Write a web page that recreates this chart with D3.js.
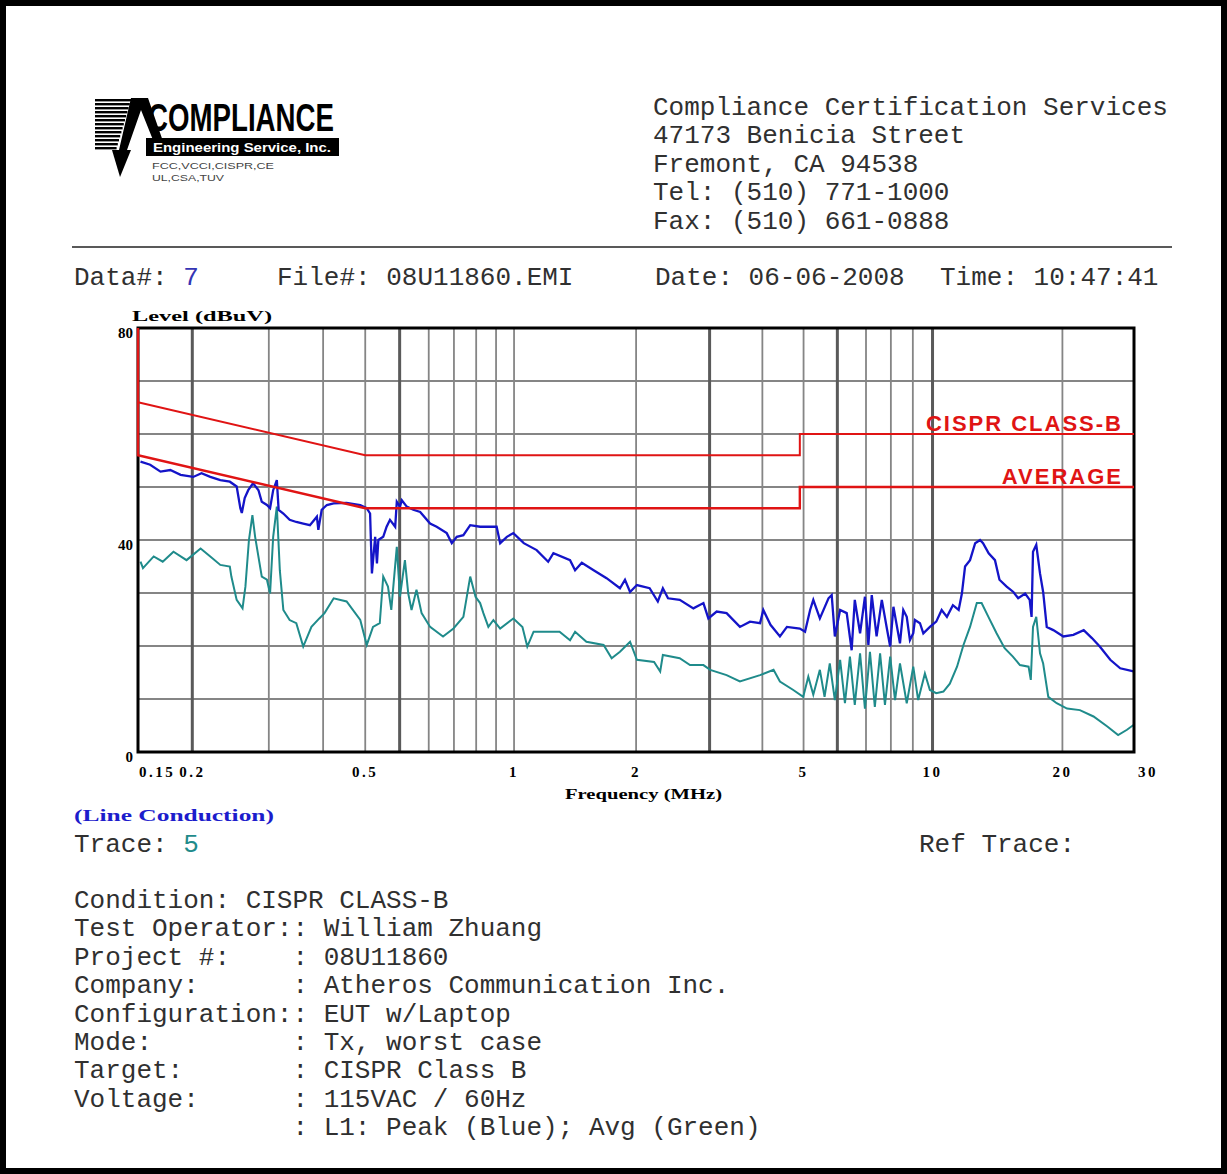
<!DOCTYPE html>
<html>
<head>
<meta charset="utf-8">
<script src="https://cdn.jsdelivr.net/npm/d3@7"></script>
<style>
  html, body { margin: 0; padding: 0; background: #ffffff; }
  svg { display: block; }
  .mono { font-family: "Liberation Mono", "Courier New", monospace; font-size: 26px; fill: #303030; white-space: pre; }
  .serifb { font-family: "Liberation Serif", "Times New Roman", serif; font-weight: bold; fill: #000; }
</style>
</head>
<body>
<svg id="page" width="1227" height="1174"></svg>
<script>
// ---- conducted emission scan, line L1 ----
// Peak detector trace (MHz, dBuV)
const peakFreq = [0.152,0.160,0.169,0.178,0.188,0.201,0.210,0.220,0.232,0.244,0.253,0.258,0.260,0.264,0.269,0.276,0.284,0.289,0.297,0.302,0.307,0.313,0.316,0.324,0.335,0.347,0.360,0.373,0.387,0.390,0.397,0.408,0.423,0.453,0.487,0.504,0.513,0.518,0.527,0.532,0.536,0.550,0.560,0.570,0.586,0.591,0.601,0.607,0.623,0.645,0.669,0.705,0.730,0.770,0.791,0.812,0.841,0.872,0.919,0.969,1.003,1.022,1.059,1.096,1.158,1.240,1.318,1.355,1.480,1.520,1.575,1.677,1.796,1.928,1.980,2.034,2.109,2.256,2.356,2.420,2.487,2.646,2.845,3.000,3.080,3.218,3.392,3.640,3.840,4.050,4.120,4.280,4.500,4.670,5.000,5.140,5.280,5.370,5.560,5.820,5.920,6.020,6.190,6.410,6.580,6.690,6.880,7.060,7.190,7.320,7.510,7.720,7.930,8.070,8.210,8.500,8.650,8.810,8.960,9.120,9.200,9.450,9.620,9.960,10.30,10.60,10.90,11.25,11.60,11.80,12.00,12.32,12.66,12.99,13.20,13.60,14.06,14.40,14.96,15.50,15.90,16.50,16.90,17.07,17.20,17.50,17.85,18.15,18.50,19.15,20.20,21.30,22.50,23.50,24.50,25.90,27.30,29.30];
const peakLevel = [54.8,54.2,52.9,53.2,52.3,51.9,52.6,51.9,51.3,51.0,50.1,46.0,45.1,47.9,49.4,50.7,49.4,47.2,46.6,46.0,49.4,51.3,45.7,45.0,43.8,43.4,43.1,42.8,44.4,41.9,45.7,46.6,46.9,47.0,46.6,46.0,45.0,33.7,40.6,35.6,40.0,40.6,42.5,43.8,42.5,47.2,46.3,47.5,46.3,45.7,45.3,43.1,42.5,41.3,39.4,40.6,40.9,42.8,42.5,42.5,42.5,39.4,40.6,41.3,39.4,38.1,35.9,37.5,36.2,34.3,35.7,34.3,32.8,30.9,32.5,30.2,31.5,30.9,28.4,30.9,29.0,28.7,27.1,28.1,25.2,26.5,26.2,23.6,24.6,24.3,26.8,24.0,21.8,23.6,23.3,22.7,26.8,28.7,25.2,29.0,29.6,21.8,26.8,26.2,19.2,28.7,22.4,29.3,20.2,29.6,21.8,28.7,23.3,19.9,27.4,20.5,26.8,25.5,21.1,22.4,24.9,24.3,22.4,23.6,24.6,26.8,25.5,27.7,26.8,29.9,35.0,36.2,39.4,40.0,39.4,37.5,36.2,32.5,31.2,30.2,29.0,29.9,28.7,25.5,37.8,39.1,33.7,30.2,23.6,23.0,21.8,22.1,23.0,21.5,19.9,17.4,15.8,15.2];

// Average detector trace (MHz, dBuV)
const avgFreq = [0.152,0.154,0.163,0.171,0.181,0.194,0.209,0.220,0.232,0.244,0.246,0.253,0.261,0.265,0.270,0.275,0.279,0.289,0.297,0.302,0.307,0.313,0.318,0.324,0.335,0.347,0.360,0.376,0.392,0.403,0.423,0.453,0.487,0.504,0.521,0.540,0.550,0.564,0.574,0.591,0.601,0.617,0.628,0.639,0.656,0.674,0.705,0.755,0.798,0.841,0.872,0.897,0.919,0.935,0.960,0.986,1.022,1.096,1.150,1.180,1.220,1.263,1.318,1.400,1.480,1.520,1.614,1.768,1.845,1.928,2.034,2.109,2.310,2.386,2.420,2.646,2.794,3.000,3.110,3.392,3.640,4.050,4.350,4.500,4.830,5.090,5.230,5.370,5.560,5.700,5.860,6.020,6.190,6.350,6.520,6.690,6.880,7.060,7.250,7.440,7.650,7.850,8.070,8.280,8.500,8.810,9.120,9.360,9.700,9.960,10.30,10.70,11.07,11.50,11.90,12.32,12.77,13.10,13.58,14.18,14.80,15.46,16.05,16.80,17.00,17.20,17.50,17.85,18.15,18.65,19.50,20.60,22.05,23.70,25.50,27.00,28.30,29.30];
const avgLevel = [35.9,34.7,36.9,35.9,37.8,36.2,38.4,36.9,35.3,35.0,33.1,28.7,27.1,31.2,40.0,44.7,40.6,33.1,32.5,29.9,40.6,46.3,34.3,26.8,24.9,24.3,19.9,23.6,25.2,26.2,29.0,28.4,24.9,20.2,23.6,24.3,33.1,31.2,26.8,38.7,29.3,36.2,29.9,26.8,30.6,26.2,23.6,21.8,23.3,25.5,33.1,29.3,28.1,26.2,23.6,24.9,23.3,25.2,23.6,19.9,22.7,22.7,22.7,22.7,21.1,22.7,20.8,20.2,17.7,18.9,20.8,17.4,17.0,15.2,18.3,17.7,16.4,16.4,15.5,14.5,13.3,14.5,15.5,13.3,11.7,10.4,14.2,10.8,15.5,10.4,16.7,9.8,17.4,9.2,18.0,8.9,18.6,8.2,18.9,8.5,18.6,8.9,18.0,9.8,16.7,9.2,16.1,9.8,14.8,11.7,11.1,11.4,12.9,16.1,20.2,23.6,28.1,28.1,25.5,22.4,19.6,18.0,16.4,16.1,13.6,23.6,25.5,18.6,16.7,10.4,9.2,8.2,7.9,6.7,4.8,3.2,4.2,5.1];

// CISPR 22 Class B limits
const qpLimitFreq = [0.15, 0.5, 5, 5, 30];
const qpLimitLevel = [66, 56, 56, 60, 60];
const avLimitFreq = [0.15, 0.15, 0.5, 5, 5, 30];
const avLimitLevel = [80, 56, 46, 46, 50, 50];

// Axis furniture
const freqDomain = [0.15, 30];
const levelDomain = [0, 80];
const gridFreqs = [0.2,0.3,0.4,0.5,0.6,0.7,0.8,0.9,1.0,1.1,2.1,3.1,4.1,5.1,6.1,7.1,8.1,9.1,10.1,20.1];
const heavyGridFreqs = [0.2, 0.6, 3.1, 6.1, 10.1];
const levelGrid = [10,20,30,40,50,60,70];
const tickFreqs = [0.15, 0.2, 0.5, 1.1, 2.1, 5.1, 10.1, 20.1, 30];
const tickLabels = ["0.15","0.2","0.5","1","2","5","10","20","30"];
const levelTicks = [80, 40, 0];

// Report text
const headerLines = ["Compliance Certification Services","47173 Benicia Street","Fremont, CA 94538","Tel: (510) 771-1000","Fax: (510) 661-0888"];
const infoLines = [
  "Condition: CISPR CLASS-B",
  "Test Operator:: William Zhuang",
  "Project #:    : 08U11860",
  "Company:      : Atheros Communication Inc.",
  "Configuration:: EUT w/Laptop",
  "Mode:         : Tx, worst case",
  "Target:       : CISPR Class B",
  "Voltage:      : 115VAC / 60Hz",
  "              : L1: Peak (Blue); Avg (Green)"
];

const svg = d3.select("#page");

// page frame
svg.append("rect").attr("x", 3).attr("y", 3).attr("width", 1221).attr("height", 1168)
  .attr("fill", "none").attr("stroke", "#000").attr("stroke-width", 6);

// ---- logo ----
const logo = svg.append("g");
for (let i = 0; i < 13; i++) {
  logo.append("rect").attr("x", 95).attr("y", 99 + i * 4)
    .attr("width", 36 - i * 1.2).attr("height", 2.4).attr("fill", "#000");
}
logo.append("path").attr("d", "M131,98 L148,98 L166,150 L157,150 L141,110 L127,150 L119,150 Z").attr("fill", "#000");
logo.append("path").attr("d", "M112,150 L131,150 L120,177 Z").attr("fill", "#000");
logo.append("text").attr("x", 148).attr("y", 131).attr("textLength", 186).attr("lengthAdjust", "spacingAndGlyphs")
  .style("font-family", "Liberation Sans, Arial, sans-serif").style("font-weight", "bold").style("font-size", "39px")
  .text("COMPLIANCE");
logo.append("rect").attr("x", 146).attr("y", 138).attr("width", 193).attr("height", 18).attr("fill", "#000");
logo.append("text").attr("x", 153).attr("y", 152).attr("textLength", 178).attr("lengthAdjust", "spacingAndGlyphs")
  .style("font-family", "Liberation Sans, Arial, sans-serif").style("font-weight", "bold").style("font-size", "13px")
  .style("fill", "#fff").text("Engineering Service, Inc.");
logo.append("text").attr("x", 152).attr("y", 169).attr("textLength", 122).attr("lengthAdjust", "spacingAndGlyphs")
  .style("font-family", "Liberation Sans, Arial, sans-serif").style("font-size", "9px").style("fill", "#444")
  .text("FCC,VCCI,CISPR,CE");
logo.append("text").attr("x", 152).attr("y", 181).attr("textLength", 72).attr("lengthAdjust", "spacingAndGlyphs")
  .style("font-family", "Liberation Sans, Arial, sans-serif").style("font-size", "9px").style("fill", "#444")
  .text("UL,CSA,TUV");

// ---- header address ----
svg.selectAll("text.hdr").data(headerLines).join("text")
  .attr("class", "mono hdr").attr("x", 653).attr("y", (d, i) => 115 + i * 28.4).text(d => d);

svg.append("line").attr("x1", 72).attr("x2", 1172).attr("y1", 247).attr("y2", 247)
  .attr("stroke", "#222").attr("stroke-width", 1.6);

// ---- run identification line ----
const idLine = svg.append("text").attr("class", "mono").attr("y", 285);
idLine.append("tspan").attr("x", 74).text("Data#: ");
idLine.append("tspan").style("fill", "#3434b4").text("7");
svg.append("text").attr("class", "mono").attr("x", 277).attr("y", 285).text("File#: 08U11860.EMI");
svg.append("text").attr("class", "mono").attr("x", 655).attr("y", 285).text("Date: 06-06-2008");
svg.append("text").attr("class", "mono").attr("x", 940).attr("y", 285).text("Time: 10:47:41");

// ---- plot ----
const plot = { left: 138, right: 1134, top: 328, bottom: 752 };
const x = d3.scaleLog().domain(freqDomain).range([plot.left, 1138]);
const y = d3.scaleLinear().domain(levelDomain).range([plot.bottom, plot.top]);

const defs = svg.append("defs");
defs.append("clipPath").attr("id", "plotClip")
  .append("rect").attr("x", plot.left).attr("y", plot.top)
  .attr("width", plot.right - plot.left).attr("height", plot.bottom - plot.top);
defs.append("clipPath").attr("id", "limitClip")
  .append("rect").attr("x", plot.left - 3).attr("y", plot.top)
  .attr("width", plot.right - plot.left + 3).attr("height", plot.bottom - plot.top);

const grid = svg.append("g").attr("clip-path", "url(#plotClip)");
grid.selectAll("line.h").data(levelGrid).join("line")
  .attr("x1", plot.left).attr("x2", plot.right)
  .attr("y1", d => y(d)).attr("y2", d => y(d))
  .attr("stroke", "#858585").attr("stroke-width", 1.8);
grid.selectAll("line.v").data(gridFreqs).join("line")
  .attr("x1", d => x(d)).attr("x2", d => x(d))
  .attr("y1", plot.top).attr("y2", plot.bottom)
  .attr("stroke", d => heavyGridFreqs.includes(d) ? "#5a5a5a" : "#858585")
  .attr("stroke-width", d => heavyGridFreqs.includes(d) ? 3 : 1.8);

const line = d3.line().x(d => x(d[0])).y(d => y(d[1]));
const zip = (a, b) => a.map((v, i) => [v, b[i]]);

const traces = svg.append("g").attr("clip-path", "url(#plotClip)");
traces.append("path").datum(zip(avgFreq, avgLevel)).attr("d", line)
  .attr("fill", "none").attr("stroke", "#1f8b8b").attr("stroke-width", 2);
traces.append("path").datum(zip(peakFreq, peakLevel)).attr("d", line)
  .attr("fill", "none").attr("stroke", "#1414c8").attr("stroke-width", 2.3);

// frame
svg.append("rect").attr("x", plot.left).attr("y", plot.top)
  .attr("width", plot.right - plot.left).attr("height", plot.bottom - plot.top)
  .attr("fill", "none").attr("stroke", "#000").attr("stroke-width", 3);

// limit lines drawn over the frame
const limits = svg.append("g").attr("clip-path", "url(#limitClip)");
limits.append("path").datum(zip(qpLimitFreq, qpLimitLevel)).attr("d", line)
  .attr("fill", "none").attr("stroke", "#e01414").attr("stroke-width", 2);
limits.append("path").datum(zip(avLimitFreq, avLimitLevel)).attr("d", line)
  .attr("fill", "none").attr("stroke", "#e01414").attr("stroke-width", 2.4);

const limitLabel = (txt, lvl) => svg.append("text")
  .attr("x", 1123).attr("y", y(lvl) - 3).attr("text-anchor", "end")
  .style("font-family", "Liberation Sans, Arial, sans-serif").style("font-weight", "bold")
  .style("font-size", "22px").style("letter-spacing", "2px").style("fill", "#e01414").text(txt);
limitLabel("CISPR CLASS-B", qpLimitLevel[qpLimitLevel.length - 1]);
limitLabel("AVERAGE", avLimitLevel[avLimitLevel.length - 1]);

// axis tick labels
svg.selectAll("text.xt").data(tickFreqs).join("text")
  .attr("class", "serifb xt")
  .attr("x", d => x(d) + (d === freqDomain[0] ? 1 : 0))
  .attr("y", 777)
  .attr("text-anchor", (d, i) => (i === 0 || i === tickFreqs.length - 1) ? "start" : "middle")
  .style("font-size", "15px").style("letter-spacing", "2.5px")
  .text((d, i) => tickLabels[i]);
svg.selectAll("text.yt").data(levelTicks).join("text")
  .attr("class", "serifb yt")
  .attr("x", 133).attr("y", d => y(d) + 10).attr("text-anchor", "end")
  .style("font-size", "15px").text(d => d);

svg.append("text").attr("class", "serifb").attr("x", 132).attr("y", 321)
  .attr("textLength", 140).attr("lengthAdjust", "spacingAndGlyphs")
  .style("font-size", "15px").text("Level (dBuV)");
svg.append("text").attr("class", "serifb").attr("x", 565).attr("y", 799)
  .attr("textLength", 157).attr("lengthAdjust", "spacingAndGlyphs")
  .style("font-size", "15px").text("Frequency (MHz)");
svg.append("text").attr("class", "serifb").attr("x", 74).attr("y", 821)
  .attr("textLength", 200).attr("lengthAdjust", "spacingAndGlyphs")
  .style("font-size", "17px").style("fill", "#1c1ccc").text("(Line Conduction)");

// trace identification
const trace = svg.append("text").attr("class", "mono").attr("y", 852);
trace.append("tspan").attr("x", 74).text("Trace: ");
trace.append("tspan").style("fill", "#1f8b8b").text("5");
svg.append("text").attr("class", "mono").attr("x", 919).attr("y", 852).text("Ref Trace:");

// test conditions block
svg.selectAll("text.info").data(infoLines).join("text")
  .attr("class", "mono info").attr("x", 74).attr("y", (d, i) => 908 + i * 28.4).text(d => d);
</script>
</body>
</html>
